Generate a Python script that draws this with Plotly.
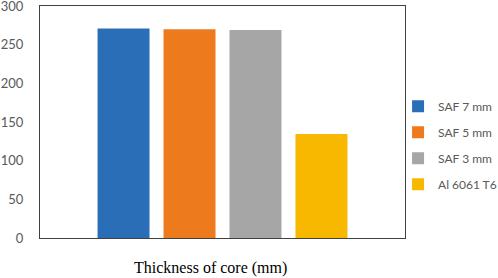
import plotly.graph_objects as go

categories = ["Thickness of core"]
series_names = ["SAF 7 mm", "SAF 5 mm", "SAF 3 mm", "Al 6061 T6"]
series_values = [271, 270, 269, 134.5]
colors = ["#2A6EB8", "#EE7A1E", "#A6A6A6", "#F9B800"]
y_ticks = [0, 50, 100, 150, 200, 250, 300]

fig = go.Figure()
for i, (name, val, col) in enumerate(zip(series_names, series_values, colors)):
    fig.add_trace(go.Bar(x=categories, y=[val], name=name, marker_color=col,
                         marker_line_width=0, legendgroup=f"g{i}"))

fig.update_layout(
    width=498, height=278,
    margin=dict(l=40, r=93, t=6, b=40, autoexpand=False),
    paper_bgcolor="white", plot_bgcolor="white",
    barmode="group", bargap=0.277, bargroupgap=0.212,
    font=dict(family="Lato", color="#595959", size=12),
    legend=dict(x=0.981, y=0.40, xanchor="left", yanchor="middle",
                font=dict(size=12, color="#595959", family="Lato"),
                tracegroupgap=7, bgcolor="rgba(0,0,0,0)"),
    showlegend=True,
)
fig.update_xaxes(showticklabels=False, showline=True, mirror=True,
                 linecolor="#404040", linewidth=1, showgrid=False)
fig.update_yaxes(range=[0, 300], tickvals=y_ticks, showline=True, mirror=True,
                 linecolor="#404040", linewidth=1, showgrid=False, zeroline=False,
                 tickfont=dict(size=13, color="#595959", family="Lato"),
                 ticklabelstandoff=13, ticklabeloverflow="allow")
fig.add_annotation(text="Thickness of core (mm)", xref="paper", yref="paper",
                   x=(210 - 40) / 365, y=(238 - 268) / 232, xanchor="center",
                   yanchor="middle", showarrow=False,
                   font=dict(family="Liberation Serif", size=16, color="black"))
fig.write_html("out.html", config={"displayModeBar": False},
               post_script="document.body.style.margin='0';document.body.style.overflow='hidden';")
